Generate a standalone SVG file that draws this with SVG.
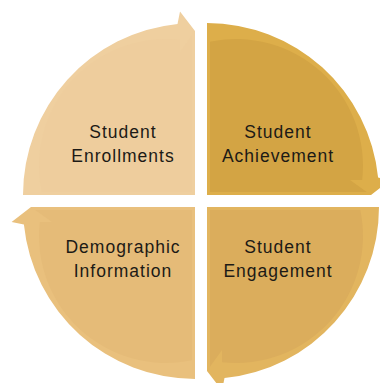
<svg xmlns="http://www.w3.org/2000/svg" width="380" height="383" viewBox="0 0 380 383">
  <style>
    .lbl { font-family: "Liberation Sans", Arial, sans-serif; font-size: 17.5px; letter-spacing: 1px; fill: #1c1a16; text-anchor: middle; }
  </style>
  <defs>
    <!-- quarter segment with arrowhead at its clockwise end; corner at origin, spans +x to +y -->
    <path id="seg" d="M0,0 H172 A172,172 0 0 1 17.5,171.1 L15,183.4 L0,164 Z"/>
    <!-- inner shaded body of the segment -->
    <path id="core" d="M3,3 H153.3 A127,127 0 0 1 15,155.2 L15,143 L3,159.8 Z"/>
  </defs>
  <rect width="380" height="383" fill="#ffffff"/>

  <g id="node-enrollments">
    <g transform="translate(195,195) rotate(180)">
      <use href="#seg" fill="#EFCF9F"/>
      <use href="#core" fill="#EECD9D"/>
    </g>
    <text class="lbl" x="123" y="138">Student</text>
    <text class="lbl" x="123" y="162">Enrollments</text>
  </g>

  <g id="node-achievement">
    <g transform="translate(207,195) rotate(-90)">
      <use href="#seg" fill="#DDAE4A"/>
      <use href="#core" fill="#D3A444"/>
    </g>
    <text class="lbl" x="278" y="138">Student</text>
    <text class="lbl" x="278" y="162">Achievement</text>
  </g>

  <g id="node-engagement">
    <g transform="translate(207,207)">
      <use href="#seg" fill="#E2B55F"/>
      <use href="#core" fill="#DBAD5C"/>
    </g>
    <text class="lbl" x="278" y="253">Student</text>
    <text class="lbl" x="278" y="277">Engagement</text>
  </g>

  <g id="node-demographic">
    <g transform="translate(195,207) rotate(90)">
      <use href="#seg" fill="#E9C07D"/>
      <use href="#core" fill="#E5BB78"/>
    </g>
    <text class="lbl" x="123" y="253">Demographic</text>
    <text class="lbl" x="123" y="277">Information</text>
  </g>

  <g id="connectors"/>
</svg>
